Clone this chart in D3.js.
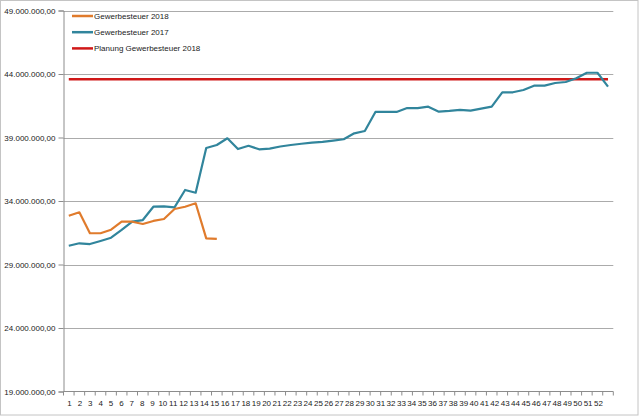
<!DOCTYPE html>
<html><head><meta charset="utf-8">
<script src="https://cdn.jsdelivr.net/npm/d3@7"></script>
<style>body{margin:0;background:#fff}svg{display:block}text{font-family:"Liberation Sans",Arial,sans-serif;fill:#222}</style>
</head><body><svg id="c" width="640" height="416"></svg>
<script>
const weeks = d3.range(1, 53).map(String);
const yTicks = [19e6, 24e6, 29e6, 34e6, 39e6, 44e6, 49e6];
const gew2018 = [32.84, 33.11, 31.46, 31.46, 31.74, 32.37, 32.37, 32.19, 32.43, 32.58, 33.37, 33.55, 33.82, 31.06, 31.01].map(v => v * 1e6);
const gew2017 = [30.48, 30.67, 30.61, 30.85, 31.11, 31.72, 32.37, 32.50, 33.55, 33.58, 33.50, 34.87, 34.65, 38.17, 38.41, 38.94, 38.09, 38.35, 38.07, 38.13,
  38.29, 38.41, 38.51, 38.59, 38.65, 38.76, 38.86, 39.33, 39.51, 41.01, 41.01, 41.01, 41.32, 41.32, 41.43, 41.03, 41.09, 41.17, 41.11, 41.27,
  41.43, 42.56, 42.56, 42.74, 43.08, 43.08, 43.29, 43.37, 43.66, 44.10, 44.10, 43.00].map(v => v * 1e6);
const planung2018 = weeks.map(() => 43.58e6);
const seriesNames = ["Gewerbesteuer 2018", "Gewerbesteuer 2017", "Planung Gewerbesteuer 2018"];
const seriesColors = ["#e07b2c", "#31859c", "#d01818"];

const svg = d3.select("#c");
svg.append("rect").attr("x", 0.5).attr("y", 0.5).attr("width", 637.5).attr("height", 414.5).attr("fill", "#fff").attr("stroke", "#c4c4c4");

const L = 63.5, R = 613.3, T = 10.5, B = 391.5;
const x = d3.scaleBand().domain(weeks).range([L, R]).paddingInner(0).paddingOuter(0);
const xc = d => x(d) + x.bandwidth() / 2;
const xLab = d3.scalePoint().domain(weeks).range([69, 598]);
const y = d3.scaleLinear().domain([19e6, 49e6]).range([B, T]);
const fmt = v => d3.format(",.2f")(v).replace(/,/g, "X").replace(/\./g, ",").replace(/X/g, ".");

// gridlines
svg.append("g").selectAll("line").data(yTicks.slice(1)).join("line")
  .attr("x1", L).attr("x2", R).attr("y1", d => Math.round(y(d)) + 0.5).attr("y2", d => Math.round(y(d)) + 0.5)
  .attr("stroke", "#ababab").attr("stroke-width", 1);

// y axis
const ya = svg.append("g").attr("transform", `translate(${L},0)`)
  .call(d3.axisLeft(y).tickValues(yTicks).tickFormat(fmt).tickSize(5).tickPadding(3));
ya.select(".domain").attr("stroke", "#8c8c8c");
ya.selectAll(".tick line").attr("stroke", "#8c8c8c");
ya.selectAll("text").attr("font-size", 8).attr("fill", "#222").style("font-family", "Liberation Sans, Arial, sans-serif");

// x axis: ticks at band edges
svg.append("line").attr("x1", L).attr("x2", R).attr("y1", B).attr("y2", B).attr("stroke", "#8c8c8c");
svg.append("g").selectAll("line").data(weeks.concat(["end"])).join("line")
  .attr("x1", d => d === "end" ? R : x(d)).attr("x2", d => d === "end" ? R : x(d))
  .attr("y1", B).attr("y2", B + 4).attr("stroke", "#8c8c8c");
const xa = svg.append("g").attr("transform", `translate(0,${B})`)
  .call(d3.axisBottom(xLab).tickSize(0).tickPadding(9));
xa.select(".domain").remove();
xa.selectAll("text").attr("font-size", 8).attr("fill", "#222").style("font-family", "Liberation Sans, Arial, sans-serif");

// lines
const line = d3.line().x((d, i) => xc(weeks[i])).y(d => y(d));
const series = [gew2018, gew2017, planung2018];
svg.append("g").selectAll("path").data([planung2018, gew2017, gew2018]).join("path")
  .attr("d", d => line(d)).attr("fill", "none")
  .attr("stroke", d => seriesColors[series.indexOf(d)])
  .attr("stroke-width", d => d === planung2018 ? 2.5 : 2.2)
  .attr("stroke-linejoin", "round");

// legend
const lg = svg.append("g").selectAll("g").data(seriesNames).join("g")
  .attr("transform", (d, i) => `translate(72,${16 + i * 16.2})`);
lg.append("line").attr("x1", 0).attr("x2", 21).attr("stroke", (d, i) => seriesColors[i]).attr("stroke-width", 2.5);
lg.append("text").attr("x", 22).attr("y", 3).attr("font-size", 8).text(d => d);
</script></body></html>
